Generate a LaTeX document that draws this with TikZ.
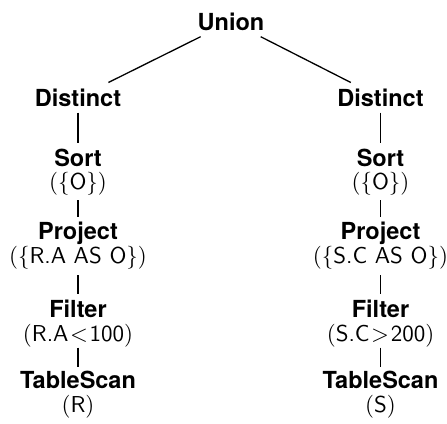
\documentclass[tikz,border=0pt]{standalone}
\usepackage{fontspec}
\newfontfamily\hvfont{TeX Gyre Heros}
\newfontfamily\argsans{lmsans10-regular.otf}
\newfontfamily\argroman{lmroman10-regular.otf}
\newcommand\rmlp{{\argroman(}}
\newcommand\rmrp{{\argroman)}}
\newcommand\rmlb{{\argroman\{}}
\newcommand\rmrb{{\argroman\}}}
\newcommand\rmrel[1]{\hspace{0.07em}{\argroman#1}\hspace{0.07em}}
\tikzset{
  opname/.style={font=\hvfont\bfseries\fontsize{23.5}{27}\selectfont, inner xsep=2pt, inner ysep=6.5pt, text height=16.8pt, text depth=0pt, anchor=base},
  oparg/.style={font=\argsans\fontsize{23}{27}\selectfont, inner sep=0pt, text height=17pt, text depth=6pt, anchor=base},
  link/.style={line width=1.3pt},
  gapA/.style={link, shorten <=5pt, shorten >=-1.3pt},
  gapB/.style={link, shorten <=6pt},
  gapC/.style={link, shorten <=0.5pt, shorten >=-2.3pt},
}
\begin{document}
\begin{tikzpicture}[x=1pt,y=-1pt]
  \fill[white] (0,0) rectangle (447,423);
  \useasboundingbox (0,0) rectangle (447,423);
  % top
  \node[opname] (u) at (231,30) {Union};
  % left branch
  \node[opname] (dl) at (78,106) {Distinct};
  \node[opname] (sl) at (78,166) {Sort};
  \node[oparg] (sla) at (78,189) {\rmlp\rmlb O\rmrb\rmrp};
  \node[opname] (pl) at (78,239) {Project};
  \node[oparg] (pla) at (78,263) {\rmlp\rmlb R.A AS O\rmrb\rmrp};
  \node[opname] (fl) at (78,317) {Filter};
  \node[oparg] (fla) at (78,341) {\rmlp R.A\rmrel{<}100\rmrp};
  \node[opname] (tl) at (78,388) {TableScan};
  \node[oparg] (tla) at (78,412) {\rmlp R\rmrp};
  % right branch
  \node[opname] (dr) at (380.5,106) {Distinct};
  \node[opname] (sr) at (380.5,166) {Sort};
  \node[oparg] (sra) at (380.5,189) {\rmlp\rmlb O\rmrb\rmrp};
  \node[opname] (pr) at (380.5,239) {Project};
  \node[oparg] (pra) at (380.5,263) {\rmlp\rmlb S.C AS O\rmrb\rmrp};
  \node[opname] (fr) at (380.5,317) {Filter};
  \node[oparg] (fra) at (380.5,341) {\rmlp S.C\rmrel{>}200\rmrp};
  \node[opname] (tr) at (380.5,388) {TableScan};
  \node[oparg] (tra) at (380.5,412) {\rmlp S\rmrp};
  % connectors
  \draw[link] (u) -- (dl);
  \draw[link] (u) -- (dr);
  \draw[link] (dl.south) -- (sl.north);
  \draw[link] (dr.south) -- (sr.north);
  \draw[gapA] (sla.south) -- (pl.north);
  \draw[gapA] (sra.south) -- (pr.north);
  \draw[gapB] (pla.south) -- (fl.north);
  \draw[gapB] (pra.south) -- (fr.north);
  \draw[gapC] (fla.south) -- (tl.north);
  \draw[gapC] (fra.south) -- (tr.north);
\end{tikzpicture}
\end{document}
